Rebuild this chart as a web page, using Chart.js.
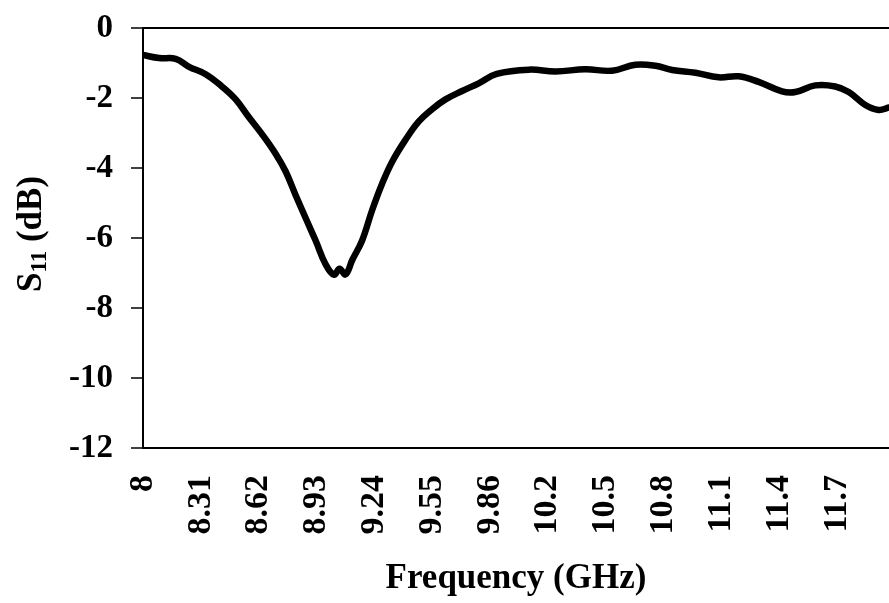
<!DOCTYPE html>
<html>
<head>
<meta charset="utf-8">
<title>S11</title>
<script src="https://cdn.jsdelivr.net/npm/chart.js@4.4.1/dist/chart.umd.min.js"></script>
<style>
  html, body { margin: 0; padding: 0; background: #fff; }
  #wrap { width: 889px; height: 603px; position: relative; }
</style>
</head>
<body>
<div id="wrap"><canvas id="s11-chart"></canvas></div>
<script>
// frequency (GHz) and S11 (dB)
var freq = [8.0, 8.086, 8.175, 8.247, 8.336, 8.423, 8.497, 8.568, 8.638, 8.711,
            8.765, 8.818, 8.872, 8.926, 8.979, 9.024, 9.054, 9.086, 9.122, 9.175,
            9.229, 9.282, 9.336, 9.408, 9.479, 9.55, 9.622, 9.711, 9.80, 9.897,
            10.069, 10.212, 10.372, 10.515, 10.64, 10.748, 10.837, 10.962, 11.087, 11.194,
            11.301, 11.426, 11.498, 11.605, 11.712, 11.784, 11.873, 11.944, 12.0];
var s11 = [-0.77, -0.86, -0.88, -1.11, -1.32, -1.67, -2.04, -2.55, -3.03, -3.59,
           -4.10, -4.77, -5.43, -6.08, -6.75, -7.05, -6.88, -7.04, -6.63, -6.07,
           -5.20, -4.45, -3.82, -3.19, -2.67, -2.32, -2.04, -1.80, -1.58, -1.31,
           -1.19, -1.24, -1.18, -1.22, -1.05, -1.08, -1.20, -1.28, -1.41, -1.38,
           -1.54, -1.81, -1.83, -1.64, -1.67, -1.83, -2.20, -2.34, -2.27];

// category-style tick positions and the labels printed under them
var xTickVals = [8, 8.31, 8.62, 8.93, 9.24, 9.55, 9.86, 10.17, 10.48, 10.79, 11.1, 11.41, 11.72];
var xTickLabels = ['8', '8.31', '8.62', '8.93', '9.24', '9.55', '9.86', '10.2', '10.5', '10.8', '11.1', '11.4', '11.7'];
var yTicks = [0, -2, -4, -6, -8, -10, -12];

var serif = "'Liberation Serif', 'Times New Roman', 'DejaVu Serif', serif";

var points = [];
for (var i = 0; i < freq.length; i++) {
    points.push({x: freq[i], y: s11[i]});
}

// y title with a real subscript
var yTitle = {
    id: 'yTitle',
    afterDraw: function (chart) {
        var ctx = chart.ctx;
        var big = 'bold 35px ' + serif;
        var small = 'bold 23px ' + serif;
        ctx.save();
        ctx.font = big;
        var wS = ctx.measureText('S').width;
        var wRest = ctx.measureText(' (dB)').width;
        ctx.font = small;
        var wSub = ctx.measureText('11').width;
        var total = wS + wSub + wRest;
        ctx.translate(41, 234);
        ctx.rotate(-Math.PI / 2);
        ctx.fillStyle = '#000';
        ctx.textBaseline = 'alphabetic';
        ctx.textAlign = 'left';
        var x0 = -total / 2;
        ctx.font = big;
        ctx.fillText('S', x0, 0);
        ctx.font = small;
        ctx.fillText('11', x0 + wS, 5);
        ctx.font = big;
        ctx.fillText(' (dB)', x0 + wS + wSub, 0);
        ctx.restore();
    }
};

var config = {
    type: 'line',
    data: {
        datasets: [{
            data: points,
            borderColor: '#000',
            borderWidth: 6.5,
            pointRadius: 0,
            tension: 0.4,
            borderJoinStyle: 'round',
            borderCapStyle: 'round',
            fill: false
        }]
    },
    options: {
        responsive: true,
        maintainAspectRatio: false,
        animation: false,
        layout: {
            padding: {top: 28, right: 0, bottom: 0, left: 0}
        },
        plugins: {
            legend: {display: false},
            tooltip: {enabled: false}
        },
        scales: {
            x: {
                type: 'linear',
                min: 8,
                max: 12,
                afterBuildTicks: function (scale) {
                    scale.ticks = xTickVals.map(function (v) { return {value: v}; });
                },
                afterFit: function (scale) {
                    scale.height = 155;
                    scale.paddingRight = 0;
                    scale.paddingLeft = 0;
                },
                grid: {display: false, drawTicks: false},
                border: {display: true, color: '#000', width: 2},
                ticks: {
                    autoSkip: false,
                    minRotation: 90,
                    maxRotation: 90,
                    padding: 27,
                    color: '#000',
                    font: {family: serif, size: 34, weight: 'bold'},
                    callback: function (value, index) {
                        return xTickLabels[index];
                    }
                },
                title: {
                    display: true,
                    text: 'Frequency (GHz)',
                    color: '#000',
                    font: {family: serif, size: 35, weight: 'bold'},
                    padding: {top: 0, bottom: 3}
                }
            },
            y: {
                min: -12,
                max: 0,
                afterBuildTicks: function (scale) {
                    scale.ticks = yTicks.map(function (v) { return {value: v}; });
                },
                afterFit: function (scale) {
                    scale.width = 143;
                    scale.paddingTop = 0;
                    scale.paddingBottom = 0;
                },
                grid: {
                    drawTicks: true,
                    tickLength: 12,
                    tickColor: '#000',
                    tickWidth: 1.5,
                    color: function (c) {
                        return (c.tick && c.tick.value === 0) ? '#000' : 'rgba(0,0,0,0)';
                    },
                    lineWidth: 2
                },
                border: {display: true, color: '#000', width: 2},
                ticks: {
                    padding: 18,
                    color: '#000',
                    font: {family: serif, size: 33, weight: 'bold'}
                },
                title: {display: false}
            }
        }
    },
    plugins: [yTitle]
};

var myChart = new Chart(document.getElementById('s11-chart').getContext('2d'), config);
</script>
</body>
</html>
